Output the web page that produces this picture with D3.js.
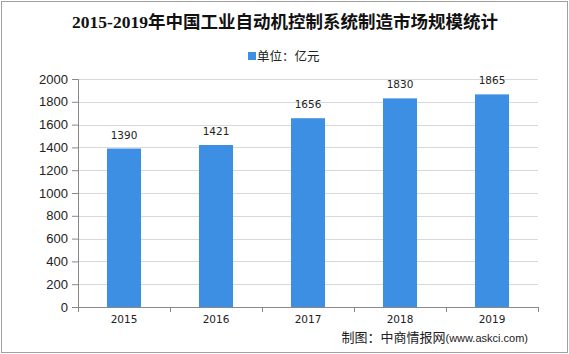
<!DOCTYPE html>
<html>
<head>
<meta charset="utf-8">
<script src="https://cdn.jsdelivr.net/npm/d3@7"></script>
<style>
body { margin: 0; background: #fff; }
svg { display: block; }
</style>
</head>
<body>
<svg id="chart" width="569" height="354"></svg>
<script>
// data
var years = ["2015", "2016", "2017", "2018", "2019"];
var values = [1390, 1421, 1656, 1830, 1865];
var yTicks = [0, 200, 400, 600, 800, 1000, 1200, 1400, 1600, 1800, 2000];

var W = 569, H = 354;
var m = {t: 79, r: 31, b: 47, l: 78};
var barColor = "#3c8fe3";

var svg = d3.select("#chart");

// outer frame
svg.append("rect")
	.attr("x", 1.5).attr("y", 1.5)
	.attr("width", W - 3).attr("height", H - 3)
	.attr("fill", "#fff")
	.attr("stroke", "#a0a0a0");

var g = svg.append("g").attr("transform", "translate(" + m.l + "," + m.t + ")");
var w = W - m.l - m.r, h = H - m.t - m.b;

var x = d3.scaleBand().domain(years).range([0, w]).paddingInner(0.63).paddingOuter(0.315);
var y = d3.scaleLinear().domain([0, 2000]).range([h, 0]);

// gridlines
g.selectAll(".grid").data(yTicks.slice(1)).enter()
	.append("line")
	.attr("x1", 0).attr("x2", w)
	.attr("y1", function(d){ return Math.round(y(d)) + 0.5; })
	.attr("y2", function(d){ return Math.round(y(d)) + 0.5; })
	.attr("stroke", "#d9d9d9");

// bars
g.selectAll(".bar").data(values).enter()
	.append("rect")
	.attr("x", function(d, i){ return x(years[i]); })
	.attr("y", function(d){ return y(d); })
	.attr("width", x.bandwidth())
	.attr("height", function(d){ return h - y(d); })
	.attr("fill", barColor);

// value labels
g.selectAll(".lbl").data(values).enter()
	.append("text")
	.attr("x", function(d, i){ return x(years[i]) + x.bandwidth() / 2; })
	.attr("y", function(d){ return y(d) - 10; })
	.attr("text-anchor", "middle")
	.attr("font-family", "DejaVu Sans, Liberation Sans")
	.attr("font-size", 10.5)
	.attr("fill", "#222")
	.text(function(d){ return d; });

// y axis
var yAxis = g.append("g")
	.call(d3.axisLeft(y).tickValues(yTicks).tickFormat(d3.format("d")).tickSize(6).tickPadding(4));
yAxis.selectAll("text").attr("font-family", "Liberation Sans, Arial").attr("font-size", 13).attr("fill", "#222");
yAxis.selectAll("line").attr("stroke", "#888");
yAxis.select(".domain").attr("stroke", "#888");

// x axis (ticks on band boundaries)
var xa = g.append("g").attr("transform", "translate(0," + h + ")");
xa.append("line").attr("x1", -5).attr("x2", w).attr("y1", 0.5).attr("y2", 0.5).attr("stroke", "#888");
var step = x.step();
d3.range(years.length + 1).forEach(function(i){
	var xx = Math.round(i * step) + 0.5;
	xa.append("line").attr("x1", xx).attr("x2", xx).attr("y1", 0).attr("y2", 5).attr("stroke", "#888");
});
xa.selectAll(".xl").data(years).enter()
	.append("text")
	.attr("x", function(d){ return x(d) + x.bandwidth() / 2; })
	.attr("y", 16)
	.attr("text-anchor", "middle")
	.attr("font-family", "DejaVu Sans, Liberation Sans")
	.attr("font-size", 10.5)
	.attr("fill", "#222")
	.text(function(d){ return d; });

// title
svg.append("text")
	.attr("x", 285).attr("y", 28)
	.attr("text-anchor", "middle")
	.attr("font-family", "Liberation Serif, Noto Sans CJK SC")
	.attr("font-weight", "bold")
	.attr("font-size", 17.5)
	.attr("fill", "#111")
	.text("2015-2019年中国工业自动机控制系统制造市场规模统计");

// legend
svg.append("rect").attr("x", 248).attr("y", 52).attr("width", 8).attr("height", 8).attr("fill", barColor);
svg.append("text")
	.attr("x", 257).attr("y", 61)
	.attr("font-family", "Noto Sans CJK SC")
	.attr("font-size", 12.5)
	.attr("fill", "#222")
	.text("单位：亿元");

// source
var src = svg.append("text")
	.attr("x", 528).attr("y", 342)
	.attr("text-anchor", "end")
	.attr("fill", "#222");
src.append("tspan").attr("font-family", "Noto Sans CJK SC").attr("font-size", 13).text("制图：中商情报网");
src.append("tspan").attr("font-family", "Liberation Sans, Arial").attr("font-size", 11).text("(www.askci.com)");
</script>
</body>
</html>
